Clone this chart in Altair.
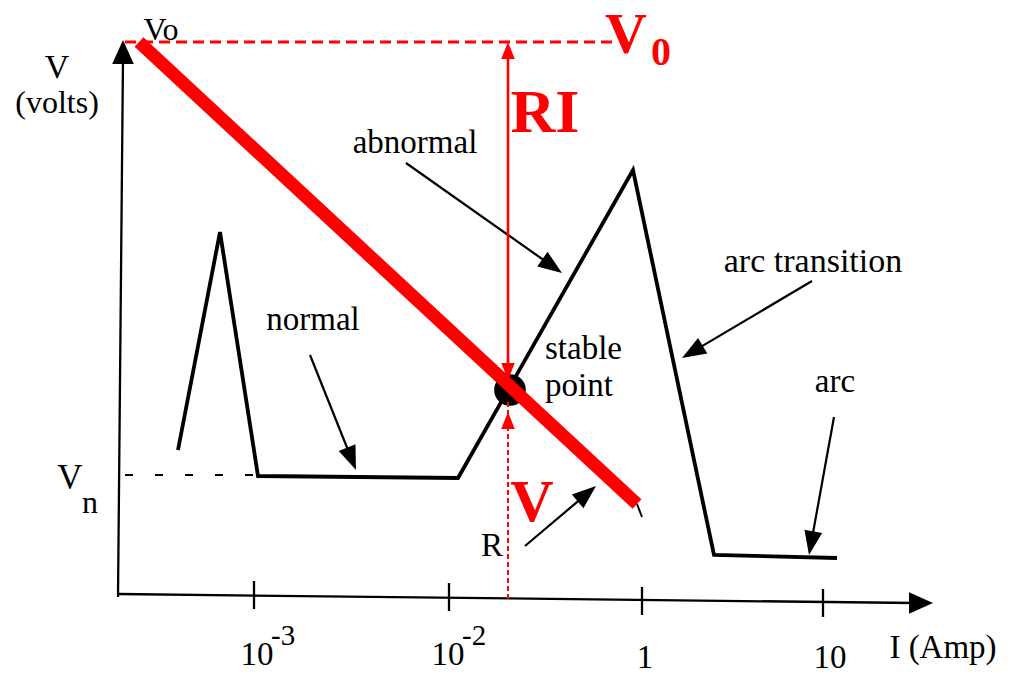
import math

import altair as alt
import pandas as pd

W, H = 1010, 675

# Gas-discharge V-I characteristic, drawn in diagram units (y grows downward)
curve_x = [178, 220, 258, 458, 633, 714, 837]
curve_y = [450, 232, 476, 478, 170, 555, 558]

# axes: (x1, y1, x2, y2)
axis_segments = [
    (118, 597, 123, 58),    # V axis
    (118, 594, 915, 603),   # I axis
]
tick_x = [254, 449, 642, 823]
tick_y = [595, 597, 601, 603]
tick_half = 14

# V_n level
vn_x = [125, 258]
vn_y = [475, 475]

# load line of the resistor R
load_x = [139, 637]
load_y = [42, 504]
load_tail = (637, 504, 642, 517)

# operating point
stable_x = [510]
stable_y = [390]

# V0 level and the RI / V split at the operating point
v0_x = [125, 615]
v0_y = [42, 42]
ri_x = 508
ri_top, ri_bottom = 42, 380
v_drop_top, v_drop_bottom = 402, 600

# annotation arrows: (x_from, y_from, x_tip, y_tip)
note_arrows = [
    (406, 163, 562, 273),   # abnormal
    (310, 355, 356, 470),   # normal
    (812, 281, 682, 358),   # arc transition
    (834, 417, 809, 555),   # arc
    (525, 546, 596, 486),   # R
]

# arrowheads of the V0 split and axes: (x_tip, y_tip, dx, dy)
red_heads = [(ri_x, ri_top, 0, -1), (ri_x, ri_bottom, 0, 1), (ri_x, 412, 0, -1)]
axis_heads = [(123, 40, 0, -1), (933, 603, 1, 0)]

# tick labels: base, exponent
tick_base = ["10", "10", "1", "10"]
tick_exp = ["-3", "-2", "", ""]

SERIF = "Liberation Serif"
RED = "#ff0000"

xs = alt.Scale(domain=[0, W])
ys = alt.Scale(domain=[H, 0])


def seg_df(segs):
    return pd.DataFrame(
        [{"x": a, "y": b, "x2": c, "y2": d} for a, b, c, d in segs]
    )


def rules(segs, color="black", width=2.0, dash=None, cap="butt"):
    kw = dict(color=color, strokeWidth=width, strokeCap=cap)
    if dash:
        kw["strokeDash"] = dash
    return alt.Chart(seg_df(segs)).mark_rule(**kw).encode(
        x=alt.X("x:Q", scale=xs, axis=None),
        y=alt.Y("y:Q", scale=ys, axis=None),
        x2="x2:Q",
        y2="y2:Q",
    )


def heads(items, color, size, path, back):
    rows = []
    for x, y, dx, dy in items:
        n = math.hypot(dx, dy)
        ux, uy = dx / n, dy / n
        ang = math.degrees(math.atan2(ux, -uy)) % 360
        rows.append({"x": x - ux * back, "y": y - uy * back, "a": ang})
    return alt.Chart(pd.DataFrame(rows)).mark_point(
        shape=path, filled=True, color=color, opacity=1, size=size, strokeWidth=0
    ).encode(
        x=alt.X("x:Q", scale=xs, axis=None),
        y=alt.Y("y:Q", scale=ys, axis=None),
        angle=alt.Angle("a:Q", scale=None),
    )


def label(text, x, y, size, color="black", bold=False, align="center"):
    df = pd.DataFrame({"x": [x], "y": [y], "t": [text]})
    return alt.Chart(df).mark_text(
        font=SERIF,
        fontSize=size,
        fontWeight="bold" if bold else "normal",
        color=color,
        align=align,
        baseline="alphabetic",
    ).encode(
        x=alt.X("x:Q", scale=xs, axis=None),
        y=alt.Y("y:Q", scale=ys, axis=None),
        text="t:N",
    )


layers = []

# axes and ticks
layers.append(rules(axis_segments, width=2.3))
layers.append(rules([(tx, ty - tick_half, tx, ty + tick_half) for tx, ty in zip(tick_x, tick_y)], width=2.3))
layers.append(heads(axis_heads, "black", 576, "M0,-1L0.9,1L-0.9,1Z", 12))

# V_n dashed level
layers.append(rules([(vn_x[0], vn_y[0], vn_x[1], vn_y[1])], width=2, dash=[8, 22]))

# characteristic curve
curve_df = pd.DataFrame({"x": curve_x, "y": curve_y, "o": range(len(curve_x))})
layers.append(
    alt.Chart(curve_df).mark_line(color="black", strokeWidth=3.8, strokeJoin="miter").encode(
        x=alt.X("x:Q", scale=xs, axis=None),
        y=alt.Y("y:Q", scale=ys, axis=None),
        order="o:Q",
    )
)

# operating point
layers.append(
    alt.Chart(pd.DataFrame({"x": stable_x, "y": stable_y})).mark_point(
        shape="circle", filled=True, color="black", opacity=1, size=1000
    ).encode(
        x=alt.X("x:Q", scale=xs, axis=None),
        y=alt.Y("y:Q", scale=ys, axis=None),
    )
)

# annotation arrows
shafts = []
for x0, y0, x1, y1 in note_arrows:
    n = math.hypot(x1 - x0, y1 - y0)
    shafts.append((x0, y0, x1 - (x1 - x0) / n * 14, y1 - (y1 - y0) / n * 14))
layers.append(rules(shafts, width=2.2))
layers.append(
    heads([(x1, y1, x1 - x0, y1 - y0) for x0, y0, x1, y1 in note_arrows],
          "black", 576, "M0,-1L0.75,1L-0.75,1Z", 12)
)

# V0 level, RI and V split
layers.append(rules([(v0_x[0], v0_y[0], v0_x[1], v0_y[1])], color=RED, width=3, dash=[11, 6]))
layers.append(rules([(ri_x, ri_top + 10, ri_x, ri_bottom - 10)], color=RED, width=2.6))
layers.append(rules([(ri_x, v_drop_top, ri_x, v_drop_bottom)], color=RED, width=2, dash=[5, 3]))
layers.append(rules([load_tail], width=2))
layers.append(rules([(load_x[0], load_y[0], load_x[1], load_y[1])], color=RED, width=13))
layers.append(heads(red_heads, RED, 289, "M0,-1L0.8,1L-0.8,1Z", 8.5))

# tick labels
tick_lab_x = [257, 448, 645, 830]
tick_lab_y = [665, 665, 668, 668]
for tx, ty, b, e in zip(tick_lab_x, tick_lab_y, tick_base, tick_exp):
    layers.append(label(b, tx, ty, 33))
    if e:
        layers.append(label(e, tx + 14, ty - 20, 29, align="left"))

# text
layers += [
    label("V", 57, 78, 34),
    label("(volts)", 57, 113, 32),
    label("Vo", 161, 40, 32),
    label("V", 70, 489, 35),
    label("n", 90, 513, 32),
    label("abnormal", 415, 153, 33),
    label("normal", 313, 330, 33),
    label("stable", 545, 359, 33, align="left"),
    label("point", 545, 396, 33, align="left"),
    label("arc transition", 813, 272, 34),
    label("arc", 835, 392, 33),
    label("R", 492, 556, 33),
    label("I (Amp)", 943, 658, 33),
    label("V", 626, 53, 58, color=RED, bold=True),
    label("0", 661, 65, 40, color=RED, bold=True),
    label("RI", 545, 132, 62, color=RED, bold=True),
    label("V", 532, 521, 60, color=RED, bold=True),
]

chart = alt.layer(*layers).properties(
    width=W,
    height=H,
    padding=0,
    autosize=alt.AutoSizeParams(type="none"),
    background="white",
).configure_view(stroke=None)

chart.save("out.html", embed_options={"renderer": "svg", "actions": False})
